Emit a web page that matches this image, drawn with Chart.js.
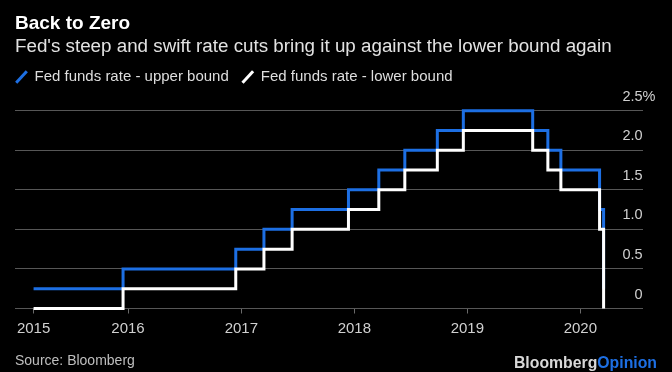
<!DOCTYPE html>
<html lang="en">
<head>
  <meta charset="utf-8"/>
  <title>Back to Zero</title>
  <script src="https://cdn.jsdelivr.net/npm/chart.js@4.4.1/dist/chart.umd.min.js"></script>
  <style>
    html, body { margin: 0; padding: 0; background: #000; }
    #wrap { width: 672px; height: 372px; position: relative; }
  </style>
</head>
<body>
  <div id="wrap"><canvas id="rateChart"></canvas></div>
  <script>
    // dates where the target range changed (step happens on that day)
    const changeDates = ['2015-03-02', '2015-12-16', '2016-12-14', '2017-03-15', '2017-06-14',
                         '2017-12-13', '2018-03-21', '2018-06-13', '2018-09-26', '2018-12-19',
                         '2019-07-31', '2019-09-18', '2019-10-30', '2020-03-03', '2020-03-16'];
    const upperBound = [0.25, 0.5, 0.75, 1.0, 1.25, 1.5, 1.75, 2.0, 2.25, 2.5, 2.25, 2.0, 1.75, 1.25, 0.25];
    const lowerBound = [0, 0.25, 0.5, 0.75, 1.0, 1.25, 1.5, 1.75, 2.0, 2.25, 2.0, 1.75, 1.5, 1.0, 0];

    const xStart = '2015-01-01';
    const xEnd = '2020-07-20';
    const tickDates = ['2015-03-02', '2016-01-01', '2017-01-01', '2018-01-01', '2019-01-01', '2020-01-01'];
    const tickLabels = ['2015', '2016', '2017', '2018', '2019', '2020'];

    const yTickValues = [0, 0.5, 1.0, 1.5, 2.0, 2.5];
    const yTickLabels = ['0', '0.5', '1.0', '1.5', '2.0', '2.5'];

    const FONT = '"Liberation Sans", Arial, Helvetica, sans-serif';
    const BLUE = '#1d6fe3';

    function toPoints(values) {
      return changeDates.map((d, i) => ({ x: Date.parse(d), y: values[i] }));
    }

    // give the legend a bit of room below it, like the original
    const legendGap = {
      id: 'legendGap',
      beforeInit(chart) {
        const fit = chart.legend.fit;
        chart.legend.fit = function () {
          fit.call(this);
          this.height += 16.2;
        };
      }
    };

    // source line and logo at the bottom
    const footer = {
      id: 'footer',
      afterDraw(chart) {
        const ctx = chart.ctx;
        ctx.save();
        ctx.textBaseline = 'alphabetic';
        ctx.font = '14px ' + FONT;
        ctx.fillStyle = '#bfbfbf';
        ctx.textAlign = 'left';
        ctx.fillText('Source: Bloomberg', 15, 365);

        ctx.font = 'bold 15.8px ' + FONT;
        const opW = ctx.measureText('Opinion').width;
        ctx.textAlign = 'right';
        ctx.fillStyle = BLUE;
        ctx.fillText('Opinion', 657, 368);
        ctx.fillStyle = '#d9d9d9';
        ctx.fillText('Bloomberg', 657 - opW, 368);
        ctx.restore();
      }
    };

    const yTicks = s => { s.ticks = yTickValues.map(v => ({ value: v })); };

    new Chart(document.getElementById('rateChart'), {
      type: 'line',
      data: {
        datasets: [{
          label: 'Fed funds rate - upper bound',
          data: toPoints(upperBound),
          borderColor: BLUE,
          pointBorderColor: BLUE,
          pointBackgroundColor: BLUE,
          borderWidth: 3,
          pointBorderWidth: 3,
          pointRadius: 0,
          pointRotation: -47,
          stepped: 'before',
          borderJoinStyle: 'miter',
          clip: false,
          order: 2
        }, {
          label: 'Fed funds rate - lower bound',
          data: toPoints(lowerBound),
          borderColor: '#ffffff',
          pointBorderColor: '#ffffff',
          pointBackgroundColor: '#ffffff',
          borderWidth: 3,
          pointBorderWidth: 3,
          pointRadius: 0,
          pointRotation: -47,
          stepped: 'before',
          borderJoinStyle: 'miter',
          clip: false,
          order: 1
        }]
      },
      options: {
        responsive: true,
        maintainAspectRatio: false,
        animation: false,
        layout: { padding: { left: 15, right: 16.5, top: 0, bottom: 28.5 } },
        plugins: {
          title: {
            display: true,
            text: 'Back to Zero',
            align: 'start',
            color: '#ffffff',
            font: { family: FONT, size: 19, weight: 'bold' },
            padding: { top: 12.6, bottom: 0 }
          },
          subtitle: {
            display: true,
            text: "Fed's steep and swift rate cuts bring it up against the lower bound again",
            align: 'start',
            color: '#e2e2e2',
            font: { family: FONT, size: 18.8 },
            padding: { top: 0, bottom: 10.5 }
          },
          legend: {
            display: true,
            align: 'start',
            labels: {
              usePointStyle: true,
              pointStyle: 'line',
              boxWidth: 11,
              boxHeight: 11,
              padding: 1,
              color: '#dedede',
              font: { family: FONT, size: 15 },
              sort: (a, b) => a.datasetIndex - b.datasetIndex,
              generateLabels(chart) {
                const items = Chart.defaults.plugins.legend.labels.generateLabels(chart);
                items.forEach(it => { if (it.datasetIndex === 0) it.text += '   '; });
                return items;
              }
            }
          },
          tooltip: { enabled: false }
        },
        scales: {
          x: {
            type: 'linear',
            min: Date.parse(xStart),
            max: Date.parse(xEnd),
            afterBuildTicks: s => { s.ticks = tickDates.map(d => ({ value: Date.parse(d) })); },
            ticks: {
              callback: (v, i) => tickLabels[i],
              autoSkip: false,
              maxRotation: 0,
              padding: 6,
              color: '#d0d0d0',
              font: { family: FONT, size: 15 }
            },
            grid: { drawOnChartArea: false, drawTicks: true, tickLength: 5, color: '#6a6a6a' },
            border: { display: false }
          },
          y: {
            position: 'right',
            min: 0,
            max: 2.5,
            afterBuildTicks: yTicks,
            ticks: {
              mirror: true,
              padding: 0,
              labelOffset: -14,
              callback: (v, i) => yTickLabels[i],
              color: '#d0d0d0',
              font: { family: FONT, size: 14.5 }
            },
            grid: { color: '#575757', drawTicks: false },
            border: { display: false }
          },
          y2: {
            position: 'right',
            min: 0,
            max: 2.5,
            afterBuildTicks: yTicks,
            ticks: {
              padding: 0,
              labelOffset: -14,
              callback: (v, i) => (i === yTickValues.length - 1 ? '%' : ''),
              color: '#d0d0d0',
              font: { family: FONT, size: 14.5 }
            },
            grid: { display: false, drawTicks: false },
            border: { display: false }
          }
        }
      },
      plugins: [legendGap, footer]
    });
  </script>
</body>
</html>
